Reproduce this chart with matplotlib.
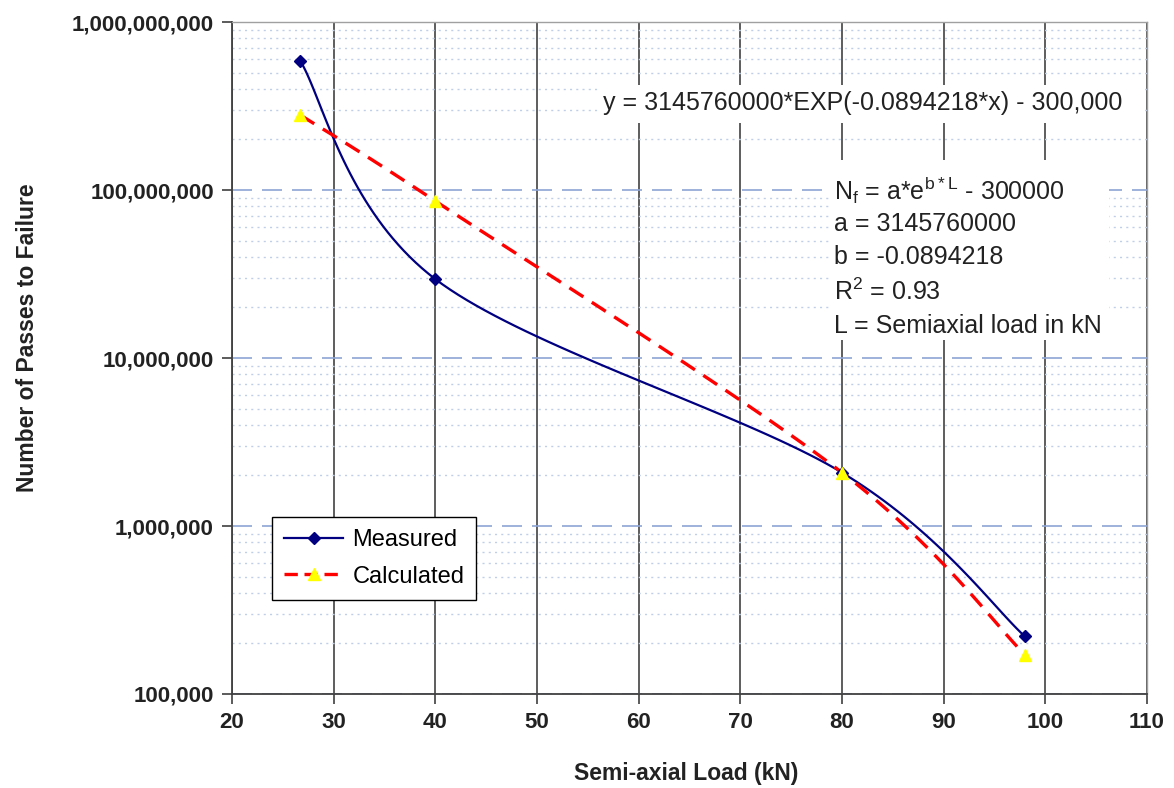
import numpy as np
import matplotlib.pyplot as plt
from matplotlib.patches import Rectangle
from matplotlib.ticker import FuncFormatter, LogLocator, MultipleLocator

plt.rcParams['font.family'] = ['Liberation Sans', 'DejaVu Sans']

# data
load_kn = [26.7, 40, 80, 98]
measured = [5.9e8, 2.95e7, 2.08e6, 2.2e5]
calculated = [2.8e8, 8.6e7, 2.08e6, 1.71e5]

eq_text = "y = 3145760000*EXP(-0.0894218*x) - 300,000"
fit_lines = [r"N$_\mathregular{f}$ = a*e$^\mathregular{b*L}$ - 300000",
             "a = 3145760000",
             "b = -0.0894218",
             r"R$^\mathregular{2}$ = 0.93",
             "L = Semiaxial load in kN"]


def smooth(x, y, n=40):
    # Excel-style smoothed line: bezier through the points, worked in log space
    px = np.array(x, float)
    py = np.log10(y)
    xs, ys = [], []
    m = len(px)
    for i in range(m - 1):
        i0, i3 = max(i - 1, 0), min(i + 2, m - 1)
        c1 = (px[i] + (px[i + 1] - px[i0]) / 6, py[i] + (py[i + 1] - py[i0]) / 6)
        c2 = (px[i + 1] - (px[i3] - px[i]) / 6, py[i + 1] - (py[i3] - py[i]) / 6)
        t = np.linspace(0, 1, n)
        a, b, c, d = (1 - t) ** 3, 3 * (1 - t) ** 2 * t, 3 * (1 - t) * t ** 2, t ** 3
        xs.extend(a * px[i] + b * c1[0] + c * c2[0] + d * px[i + 1])
        ys.extend(a * py[i] + b * c1[1] + c * c2[1] + d * py[i + 1])
    return np.array(xs), 10 ** np.array(ys)


fig = plt.figure(figsize=(11.74, 7.88), dpi=100)
ax = fig.add_axes([0.1976, 0.1193, 0.7794, 0.8527])
ax.set_yscale('log')
ax.set_xlim(20, 110)
ax.set_ylim(1e5, 1e9)

# grid
ax.xaxis.set_major_locator(MultipleLocator(10))
ax.yaxis.set_major_locator(LogLocator(base=10))
ax.yaxis.set_minor_locator(LogLocator(base=10, subs=np.arange(2, 10)))
ax.grid(True, which='major', axis='x', color='#505050', lw=1.3, ls='-')
ax.grid(True, which='major', axis='y', color='#8da4d4', lw=1.2, ls=(0, (12, 6)))
ax.grid(True, which='minor', axis='y', color='#c0cfe8', lw=1.0, ls=(0, (1.5, 3)))
ax.set_axisbelow(True)

# series
sx, sy = smooth(load_kn, measured)
ax.plot(sx, sy, color='#000080', lw=1.6, zorder=3)
ax.plot(load_kn, measured, ls='none', marker='D', ms=6, color='#000080', zorder=4)
cx, cy = smooth(load_kn, calculated)
ax.plot(cx, cy, color='#ff0000', lw=2.4, ls=(0, (5, 3)), zorder=3)
ax.plot(load_kn, calculated, ls='none', marker='^', ms=9, color='#ffff00', mec='#ffff00', zorder=4)

# legend proxies
ax.plot([], [], color='#000080', lw=1.6, marker='D', ms=6, label='Measured')
ax.plot([], [], color='#ff0000', lw=2.4, ls=(0, (4, 2)), marker='^', ms=9,
        mfc='#ffff00', mec='#ffff00', label='Calculated')
h, l = ax.get_legend_handles_labels()
leg = ax.legend(h, l, loc='upper left', bbox_to_anchor=(0.044, 0.263), fontsize=17,
                frameon=True, fancybox=False, edgecolor='black', framealpha=1,
                borderaxespad=0, borderpad=0.5, labelspacing=0.62,
                handlelength=2.5, handletextpad=0.4)
leg.get_frame().set_linewidth(1.0)
leg.set_zorder(6)

# annotations, white boxes behind them hide the grid
ax.add_patch(Rectangle((0.401, 0.85), 0.594, 0.056, transform=ax.transAxes,
                       facecolor='white', edgecolor='none', zorder=2))
ax.add_patch(Rectangle((0.652, 0.527), 0.306, 0.268, transform=ax.transAxes,
                       facecolor='white', edgecolor='none', zorder=2))
ax.text(0.4053, 0.8795, eq_text, transform=ax.transAxes, fontsize=18, color='#222222',
        va='center', ha='left', zorder=5)
ys_txt = [0.750, 0.699, 0.650, 0.598, 0.548]
for s, yy in zip(fit_lines, ys_txt):
    ax.text(0.658, yy, s, transform=ax.transAxes, fontsize=18, color='#222222',
            va='center', ha='left', zorder=5)

# axes styling
ax.yaxis.set_major_formatter(FuncFormatter(lambda v, p: f"{v:,.0f}"))
ax.tick_params(which='major', length=7, width=1.2, color='#404040', labelsize=16, pad=6)
ax.tick_params(which='minor', length=0)
for lab in ax.get_xticklabels() + ax.get_yticklabels():
    lab.set_fontweight('bold')
    lab.set_color('#222222')
for side in ['left', 'bottom']:
    ax.spines[side].set_color('#404040')
    ax.spines[side].set_linewidth(1.3)
for side in ['top', 'right']:
    ax.spines[side].set_color('#a0a0a0')
    ax.spines[side].set_linewidth(1.0)

ax.set_xlabel("Semi-axial Load (kN)", fontsize=16.5, fontweight='bold', color='#222222')
ax.set_ylabel("Number of Passes to Failure", fontsize=16.5, fontweight='bold', color='#222222')
ax.xaxis.set_label_coords(0.496, -0.101)
ax.yaxis.set_label_coords(-0.211, 0.531)

fig.savefig('out.png', dpi=100)
